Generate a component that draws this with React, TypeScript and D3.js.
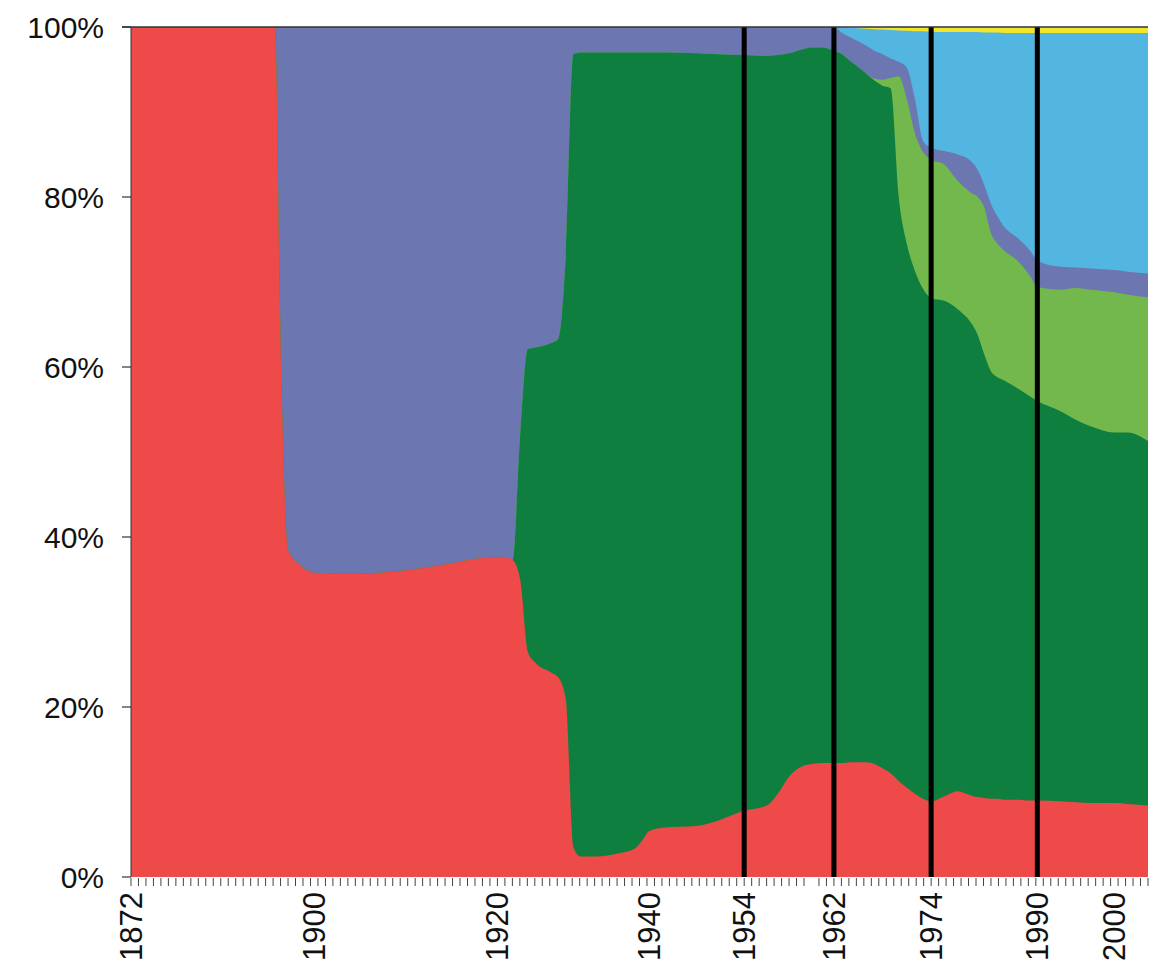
import React, { useEffect, useRef } from 'react';
import * as d3 from 'd3';

// years that carry a reading (category axis, one tick per slot)
const years = [
  1872, 1880, 1890, 1893, 1894, 1895, 1896, 1898, 1900, 1905, 1910, 1915, 1918, 1920, 1921, 1922,
  1923, 1924, 1925, 1927, 1928, 1929, 1930, 1931, 1933, 1936, 1938, 1939, 1940, 1942, 1947, 1950,
  1954, 1956, 1957, 1958, 1959, 1960, 1961, 1962, 1963, 1964, 1966, 1967, 1968, 1969, 1970, 1971,
  1972, 1973, 1974, 1976, 1978, 1980, 1981, 1982, 1983, 1984, 1985, 1987, 1989, 1990, 1993, 1995,
  1997, 2000, 2002, 2005,
];

// shares in %, bottom to top
const red = [
  100, 100, 100, 100, 100, 58, 38.5, 36.6, 35.8, 35.7, 36.1, 36.9, 37.5, 37.6, 37.6, 37.3,
  35, 26.5, 25.2, 24.1, 23.5, 21, 3.5, 2.4, 2.4, 2.8, 3.3, 4.2, 5.4, 5.8, 6.0, 6.6,
  7.8, 8.4, 9.8, 11.8, 12.9, 13.3, 13.4, 13.4, 13.4, 13.5, 13.5, 13.3, 12.8, 12.2, 11.3, 10.5,
  9.8, 9.2, 8.9, 9.5, 10.1, 9.6, 9.4, 9.3, 9.2, 9.2, 9.1, 9.1, 9.0, 9.0, 8.9, 8.8,
  8.7, 8.7, 8.6, 8.4,
];
const darkGreen = [
  0, 0, 0, 0, 0, 0, 0, 0, 0, 0, 0, 0, 0, 0, 0, 0,
  17, 35.6, 37.1, 38.7, 39.8, 52, 93.3, 94.6, 94.6, 94.2, 93.7, 92.8, 91.6, 91.2, 90.9, 90.2,
  88.9, 88.2, 86.9, 85.1, 84.4, 84.3, 84.2, 83.8, 83.4, 82.5, 81.0, 80.4, 80.3, 80.6, 68.7, 64.0,
  61.5, 60.0, 59.2, 58.3, 56.7, 55.6, 54.4, 52.2, 50.3, 49.6, 49.3, 48.4, 47.5, 47.0, 45.9, 45.0,
  44.3, 43.6, 43.7, 42.9,
];
const lightGreen = [
  0, 0, 0, 0, 0, 0, 0, 0, 0, 0, 0, 0, 0, 0, 0, 0,
  0, 0, 0, 0, 0, 0, 0, 0, 0, 0, 0, 0, 0, 0, 0, 0,
  0, 0, 0, 0, 0, 0, 0, 0, 0, 0, 0, 0.2, 0.7, 1.2, 14.2, 17.0,
  16.2, 16.1, 16.3, 16.0, 15.1, 15.3, 16.2, 17.3, 16.3, 15.7, 15.3, 15.0, 14.1, 13.4, 14.3, 15.5,
  16.1, 16.5, 16.2, 16.9,
];
const purple = [
  0, 0, 0, 0, 0, 42, 61.5, 63.4, 64.2, 64.3, 63.9, 63.1, 62.5, 62.4, 62.4, 62.7,
  48, 37.9, 37.7, 37.2, 36.7, 27, 3.2, 3.0, 3.0, 3.0, 3.0, 3.0, 3.0, 3.0, 3.1, 3.2,
  3.3, 3.4, 3.3, 3.1, 2.7, 2.4, 2.4, 2.8, 2.5, 2.8, 3.3, 3.3, 3.0, 2.3, 1.7, 3.7,
  4.0, 1.3, 1.4, 1.6, 3.1, 3.7, 3.2, 2.6, 3.4, 3.2, 2.8, 2.7, 3.0, 3.1, 2.7, 2.4,
  2.5, 2.6, 2.7, 2.8,
];
const blue = [
  0, 0, 0, 0, 0, 0, 0, 0, 0, 0, 0, 0, 0, 0, 0, 0,
  0, 0, 0, 0, 0, 0, 0, 0, 0, 0, 0, 0, 0, 0, 0, 0,
  0, 0, 0, 0, 0, 0, 0, 0, 0.65, 1.1, 2.0, 2.55, 2.9, 3.35, 3.7, 4.35,
  8.0, 12.9, 13.65, 14.0, 14.4, 15.2, 16.2, 17.95, 20.15, 21.65, 22.8, 24.1, 25.7, 26.8, 27.5, 27.6,
  27.7, 27.9, 28.1, 28.3,
];
const yellow = [
  0, 0, 0, 0, 0, 0, 0, 0, 0, 0, 0, 0, 0, 0, 0, 0,
  0, 0, 0, 0, 0, 0, 0, 0, 0, 0, 0, 0, 0, 0, 0, 0,
  0, 0, 0, 0, 0, 0, 0, 0, 0.05, 0.1, 0.2, 0.25, 0.3, 0.35, 0.4, 0.45,
  0.5, 0.5, 0.55, 0.6, 0.6, 0.6, 0.6, 0.65, 0.65, 0.65, 0.7, 0.7, 0.7, 0.7, 0.7, 0.7,
  0.7, 0.7, 0.7, 0.7,
];

const seriesKeys = ['red', 'darkGreen', 'lightGreen', 'purple', 'blue', 'yellow'];
const seriesValues = [red, darkGreen, lightGreen, purple, blue, yellow];
const seriesColors = ['#ef4a4a', '#0e7f3f', '#72b84c', '#6c76b1', '#52b6e0', '#f2e52a'];

// labelled years and their slot on the category axis
const labelYears = [1872, 1900, 1920, 1940, 1954, 1962, 1974, 1990, 2000, 2005];
const labelSlots = [0, 24.5, 49, 69.3, 82, 94, 107, 121.2, 131.5, 136];
const slotCount = 137;
const missingSlots = [91];
const markerYears = [1954, 1962, 1974, 1990];
const yTicks = [0, 20, 40, 60, 80, 100];

const App = () => {
  const svgRef = useRef(null);
  const width = 1160;
  const height = 972;
  const margin = { top: 27, right: 12, bottom: 95, left: 131 };

  useEffect(() => {
    const svg = d3.select(svgRef.current);
    svg.selectAll('*').remove();

    const innerWidth = width - margin.left - margin.right;
    const innerHeight = height - margin.top - margin.bottom;
    const font = '"Liberation Sans", Arial, sans-serif';

    const g = svg.append('g').attr('transform', `translate(${margin.left},${margin.top})`);

    // year -> slot -> pixel
    const slot = d3.scaleLinear().domain(labelYears).range(labelSlots);
    const xs = d3.scaleLinear().domain([0, slotCount - 1]).range([0, innerWidth]);
    const x = (yr) => xs(slot(yr));
    const y = d3.scaleLinear().domain([0, 100]).range([innerHeight, 0]);

    const table = years.map((yr, i) => {
      const row = { year: yr };
      seriesKeys.forEach((k, j) => { row[k] = seriesValues[j][i]; });
      return row;
    });
    const stacked = d3.stack().keys(seriesKeys)(table);

    // paint each layer from 0 up to its cumulative top, top layer first (no seams)
    const area = d3.area()
      .x(d => x(d.data.year))
      .y0(y(0))
      .y1(d => y(d[1]))
      .curve(d3.curveMonotoneX);

    stacked.slice().reverse().forEach(s => {
      g.append('path')
        .datum(s)
        .attr('fill', seriesColors[s.index])
        .attr('d', area);
    });

    // marker lines
    g.selectAll('.marker')
      .data(markerYears)
      .enter()
      .append('line')
      .attr('x1', d => x(d))
      .attr('x2', d => x(d))
      .attr('y1', 0)
      .attr('y2', innerHeight)
      .attr('stroke', '#000')
      .attr('stroke-width', 5);

    // top border and left axis line
    g.append('line')
      .attr('x1', -9).attr('x2', innerWidth)
      .attr('y1', 0).attr('y2', 0)
      .attr('stroke', '#333').attr('stroke-width', 1.5);
    g.append('line')
      .attr('x1', 0).attr('x2', 0)
      .attr('y1', 0).attr('y2', innerHeight)
      .attr('stroke', '#333').attr('stroke-width', 1);

    // y axis
    const yAxis = g.append('g');
    yAxis.selectAll('line')
      .data(yTicks)
      .enter()
      .append('line')
      .attr('x1', -9).attr('x2', 0)
      .attr('y1', d => y(d)).attr('y2', d => y(d))
      .attr('stroke', '#333').attr('stroke-width', 1.2);
    yAxis.selectAll('text')
      .data(yTicks)
      .enter()
      .append('text')
      .attr('x', -27)
      .attr('y', d => y(d))
      .attr('dy', '0.35em')
      .attr('text-anchor', 'end')
      .attr('font-family', font)
      .attr('font-size', 30)
      .attr('fill', '#111')
      .text(d => `${d}%`);

    // x axis: one minor tick per category slot
    const slots = d3.range(slotCount).filter(i => !missingSlots.includes(i));
    g.append('g')
      .selectAll('line')
      .data(slots)
      .enter()
      .append('line')
      .attr('x1', d => xs(d)).attr('x2', d => xs(d))
      .attr('y1', innerHeight + 1).attr('y2', innerHeight + 9)
      .attr('stroke', '#444').attr('stroke-width', 1);

    g.append('g')
      .selectAll('text')
      .data(labelYears.slice(0, -1))
      .enter()
      .append('text')
      .attr('transform', d => `translate(${x(d)},${innerHeight + 15}) rotate(-90)`)
      .attr('dy', '0.35em')
      .attr('text-anchor', 'end')
      .attr('font-family', font)
      .attr('font-size', 31)
      .attr('fill', '#111')
      .text(d => d);
  }, []);

  return (
    <div style={{ width, height }}>
      <style>{'body { margin: 0; }'}</style>
      <svg ref={svgRef} width={width} height={height} style={{ display: 'block' }} />
    </div>
  );
};

export default App;
